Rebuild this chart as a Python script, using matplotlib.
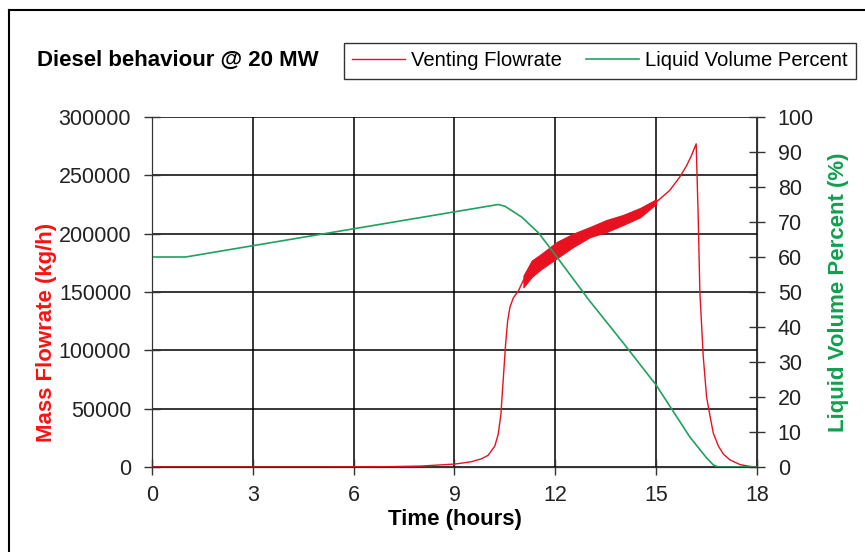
import numpy as np
import matplotlib.pyplot as plt
from matplotlib.lines import Line2D

plt.rcParams['font.family'] = ['Liberation Sans', 'DejaVu Sans']

# venting flowrate (kg/h) vs time (hours)
vent_t = [0, 5, 7, 8, 9, 9.5, 9.8, 10.0, 10.2, 10.3, 10.38, 10.45, 10.52, 10.58, 10.65,
          10.75, 10.9, 11.05, 11.5, 12.0, 12.5, 13.0, 13.5, 14.0, 14.5, 15.0, 15.4,
          15.7, 15.9, 16.05, 16.19, 16.25, 16.3, 16.4, 16.5, 16.6, 16.7, 16.85, 17.0,
          17.2, 17.5, 17.8, 18.0]
vent_v = [0, 0, 300, 800, 2500, 4500, 7000, 10000, 18000, 28000, 45000, 75000, 105000,
          125000, 137000, 145000, 151000, 160000, 175000, 186000, 194000, 201000,
          206500, 211500, 218000, 227000, 237000, 248500, 258000, 267000, 277000,
          215000, 150000, 95000, 60000, 44000, 29000, 18000, 11000, 6000, 2000, 500, 0]

# noisy band of the flowrate
band_t = [11.05, 11.3, 11.55, 12.05, 12.53, 13.03, 13.52, 14.01, 14.52, 15.0]
band_lo = [154000, 163000, 169000, 179000, 188600, 197000, 201400, 207400, 214000, 225500]
band_hi = [164000, 177000, 182000, 193000, 200000, 205700, 211700, 216000, 222000, 229500]

# liquid volume percent
liq_t = [0, 1.0, 10.3, 10.5, 11.0, 11.5, 12.0, 13.0, 14.0, 15.0, 16.0, 16.3, 16.5,
         16.7, 16.85, 18.0]
liq_p = [60, 60, 75, 74.5, 71.4, 66.9, 60.6, 47.7, 35.7, 23.4, 8.6, 5.0, 2.6, 0.6, 0, 0]

red = '#e8111f'
green = '#22a060'

fig = plt.figure(figsize=(8.65, 5.52), dpi=100)
ax = fig.add_axes([152/865, 1-467/552, 605/865, 350/552])
ax2 = ax.twinx()

ax.plot(vent_t, vent_v, color=red, lw=1.0, label='Venting Flowrate', zorder=3)
ax.fill_between(band_t, band_lo, band_hi, color=red, lw=0.8, zorder=3)
ax2.plot(liq_t, liq_p, color=green, lw=1.2, label='Liquid Volume Percent')

ax.set_xlim(0, 18)
ax.set_ylim(0, 300000)
ax2.set_ylim(0, 100)
ax.set_xticks(np.arange(0, 19, 3))
ax.set_yticks(np.arange(0, 300001, 50000))
ax2.set_yticks(np.arange(0, 101, 10))
ax.grid(True, color='black', lw=1.1)
ax.set_axisbelow(True)

for a in (ax, ax2):
    a.tick_params(direction='inout', length=12, width=1, labelsize=15.5, pad=9,
                  color='#333333', labelcolor='#222222')
    for s in a.spines.values():
        s.set_color('#333333')
ax.tick_params(axis='x', pad=7)
ax.spines['top'].set_visible(False)
ax2.spines['top'].set_visible(False)

ax.set_ylabel('Mass Flowrate (kg/h)', color='#ff1010', fontsize=16, fontweight='bold')
ax.yaxis.set_label_coords(-95/605, (467-332)/350)
ax2.set_ylabel('Liquid Volume Percent (%)', color='#10a050', fontsize=16,
               fontweight='bold', labelpad=10)
ax.set_xlabel('Time (hours)', fontsize=16, fontweight='bold', labelpad=2)

fig.text(37/865, 1-60/552, 'Diesel behaviour @ 20 MW', fontsize=16, fontweight='bold',
         va='center', ha='left')

h1, l1 = ax.get_legend_handles_labels()
h2, l2 = ax2.get_legend_handles_labels()
leg = fig.legend(h1 + h2, l1 + l2, loc='center', ncol=2,
                 bbox_to_anchor=(600/865, 1-61/552), fontsize=14.6, frameon=True,
                 fancybox=False, edgecolor='black', handlelength=2.6, handletextpad=0.3,
                 columnspacing=1.2, borderpad=0.4)
leg.get_frame().set_linewidth(1.0)

# outer chart frame
fig.add_artist(Line2D([9/865, 9/865], [0, 1-10/552], color='black', lw=1.5,
                      transform=fig.transFigure))
fig.add_artist(Line2D([9/865, 1], [1-10/552, 1-10/552], color='black', lw=1.5,
                      transform=fig.transFigure))

fig.savefig('out.png', dpi=100)
